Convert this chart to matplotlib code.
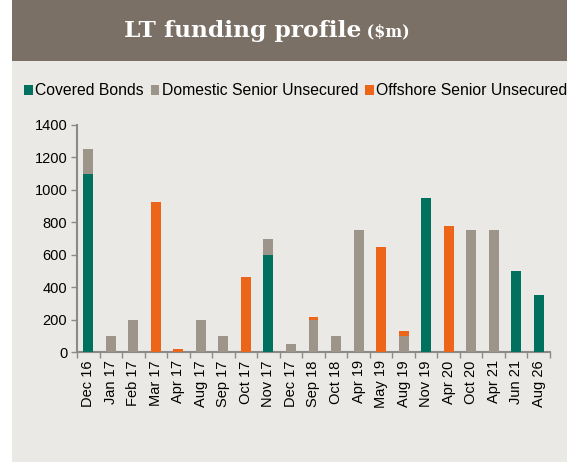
import matplotlib
matplotlib.use("Agg")
import matplotlib.pyplot as plt
from matplotlib.patches import Rectangle
import numpy as np

categories = ["Dec 16", "Jan 17", "Feb 17", "Mar 17", "Apr 17", "Aug 17", "Sep 17",
              "Oct 17", "Nov 17", "Dec 17", "Sep 18", "Oct 18", "Apr 19", "May 19",
              "Aug 19", "Nov 19", "Apr 20", "Oct 20", "Apr 21", "Jun 21", "Aug 26"]
covered = [1100, 0, 0, 0, 0, 0, 0, 0, 600, 0, 0, 0, 0, 0, 0, 950, 0, 0, 0, 500, 350]
domestic = [150, 100, 200, 0, 0, 200, 100, 0, 100, 50, 195, 100, 750, 0, 100, 0, 0, 750, 750, 0, 0]
offshore = [0, 0, 0, 925, 20, 0, 0, 465, 0, 0, 20, 0, 0, 645, 30, 0, 775, 0, 0, 0, 0]
yticks = [0, 200, 400, 600, 800, 1000, 1200, 1400]

C_COV = "#00705f"
C_DOM = "#9d958a"
C_OFF = "#ec6519"
BG = "#ebe9e5"
HEAD = "#7a7065"
AXC = "#8a8a8a"

plt.rcParams['font.family'] = ['Liberation Sans', 'DejaVu Sans']

fig = plt.figure(figsize=(5.67, 4.63), dpi=100)
fig.patch.set_facecolor("white")
W, H = 567, 463
# panel background
fig.patches.append(Rectangle((12 / W, 1 - 462 / H), (W - 12) / W, 462 / H,
                             transform=fig.transFigure, facecolor=BG, edgecolor="none", zorder=-10))
fig.patches.append(Rectangle((12 / W, 1 - 61 / H), (W - 12) / W, 61 / H,
                             transform=fig.transFigure, facecolor=HEAD, edgecolor="none", zorder=-9))

t1 = fig.text(0.5, 1 - 31 / H, "LT funding profile", color="white", fontsize=16.8,
              fontweight="bold", family="DejaVu Serif", ha="right", va="center")

ax = fig.add_axes([77 / W, 1 - 352 / H, (550 - 77) / W, (352 - 125) / H])
ax.set_facecolor("none")
x = np.arange(len(categories))
w = 0.44
cov = np.array(covered)
dom = np.array(domestic)
off = np.array(offshore)
ax.bar(x, cov, w, color=C_COV, label="Covered Bonds", zorder=3)
ax.bar(x, dom, w, bottom=cov, color=C_DOM, label="Domestic Senior Unsecured", zorder=3)
ax.bar(x, off, w, bottom=cov + dom, color=C_OFF, label="Offshore Senior Unsecured", zorder=3)

ax.set_xlim(-0.5, len(categories) - 0.5)
ax.set_ylim(0, 1400)
ax.set_yticks(yticks)
ax.set_yticklabels([str(v) for v in yticks], fontsize=10.5, color="black")
ax.set_xticks(x)
ax.set_xticklabels(categories, rotation=90, fontsize=10.5)
ax.tick_params(axis="x", length=0, pad=6)
ax.set_xticks(np.arange(-0.5, len(categories)), minor=True)
ax.tick_params(axis="x", which="minor", length=4, color=AXC, width=1)
ax.tick_params(axis="y", length=4, color=AXC, width=1, pad=3)
for s in ["top", "right"]:
    ax.spines[s].set_visible(False)
for s in ["left", "bottom"]:
    ax.spines[s].set_color(AXC)
    ax.spines[s].set_linewidth(1.5)

leg = fig.legend(loc="center left", bbox_to_anchor=(24 / W, 1 - 91 / H), ncol=3, frameon=False,
                 fontsize=11.3, handlelength=0.55, handleheight=0.55, handletextpad=0.15,
                 columnspacing=0.45, borderaxespad=0, borderpad=0)

# title with smaller ($m)
fig.canvas.draw()
r = fig.canvas.get_renderer()
bb1 = t1.get_window_extent(r)
t2 = fig.text(0, 1 - 32 / H, " ($m)", color="white", fontsize=11.5,
              fontweight="bold", family="DejaVu Serif", ha="left", va="center")
bb2 = t2.get_window_extent(r)
total = bb1.width + bb2.width
cx = 267
left = cx - total / 2
t1.set_x((left + bb1.width) / W)
t2.set_x((left + bb1.width) / W)

fig.savefig("out.png", dpi=100, facecolor="white")
